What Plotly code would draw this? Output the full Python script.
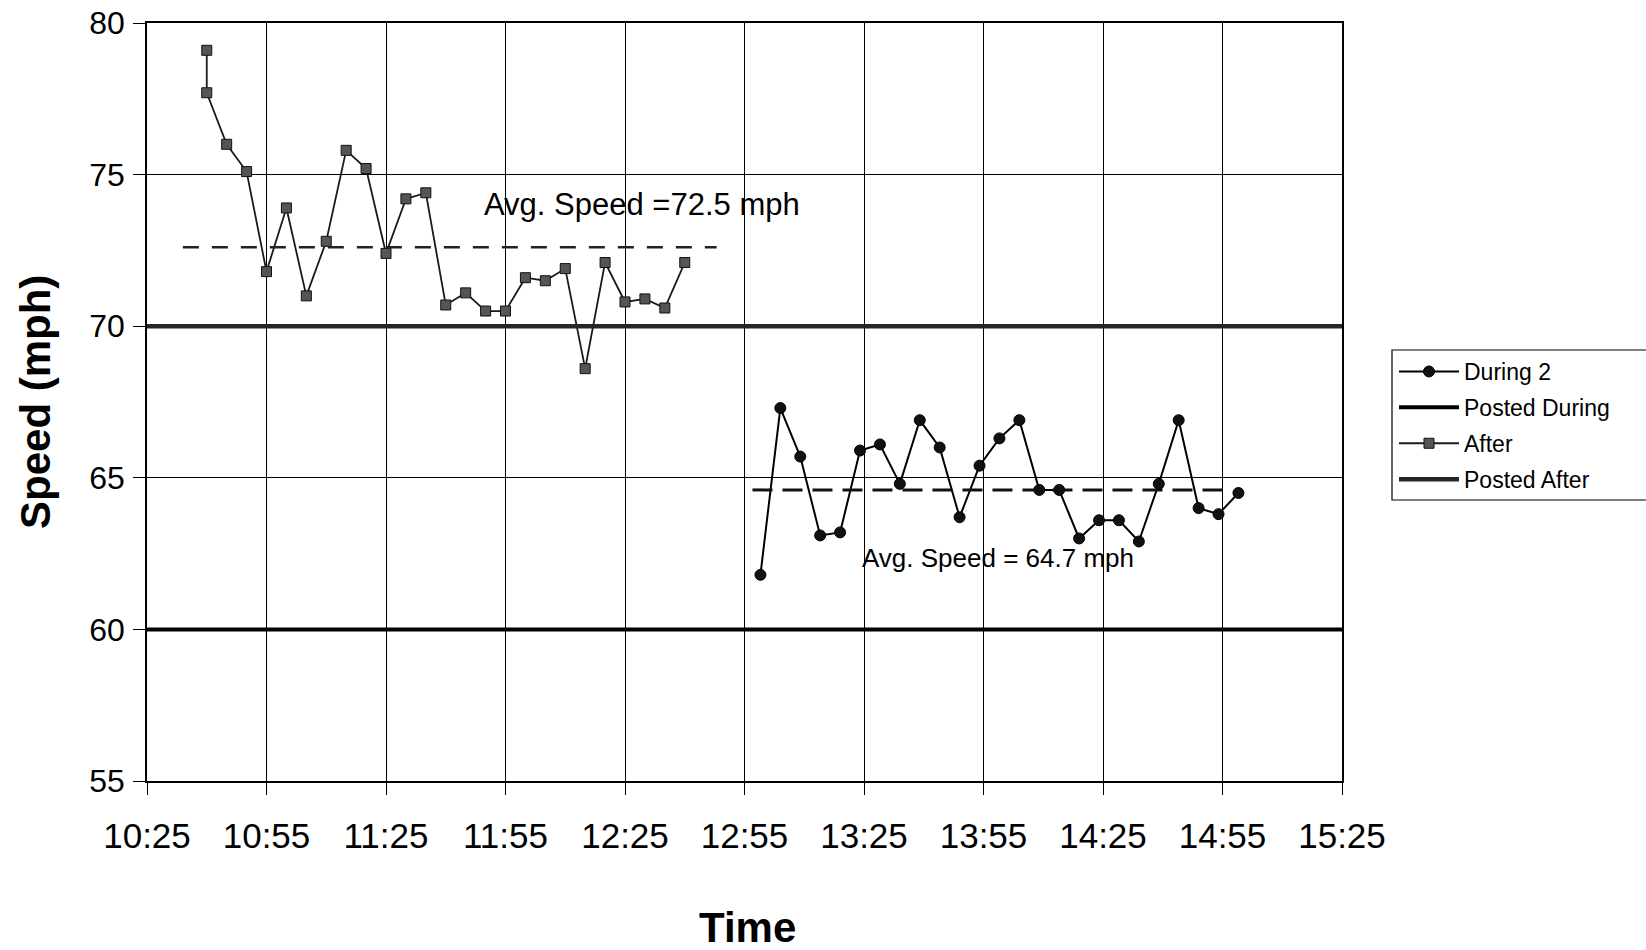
import plotly.graph_objects as go

DAY = "2000-01-01 "

# ---- data ----
after_times = ["10:40", "10:40", "10:45", "10:50", "10:55", "11:00", "11:05", "11:10",
               "11:15", "11:20", "11:25", "11:30", "11:35", "11:40", "11:45", "11:50",
               "11:55", "12:00", "12:05", "12:10", "12:15", "12:20", "12:25", "12:30",
               "12:35", "12:40"]
after_speed = [79.1, 77.7, 76.0, 75.1, 71.8, 73.9, 71.0, 72.8, 75.8, 75.2, 72.4, 74.2,
               74.4, 70.7, 71.1, 70.5, 70.5, 71.6, 71.5, 71.9, 68.6, 72.1, 70.8, 70.9,
               70.6, 72.1]

during_times = ["12:59", "13:04", "13:09", "13:14", "13:19", "13:24", "13:29", "13:34",
                "13:39", "13:44", "13:49", "13:54", "13:59", "14:04", "14:09", "14:14",
                "14:19", "14:24", "14:29", "14:34", "14:39", "14:44", "14:49", "14:54",
                "14:59"]
during_speed = [61.8, 67.3, 65.7, 63.1, 63.2, 65.9, 66.1, 64.8, 66.9, 66.0, 63.7, 65.4,
                66.3, 66.9, 64.6, 64.6, 63.0, 63.6, 63.6, 62.9, 64.8, 66.9, 64.0, 63.8,
                64.5]

posted_times = ["10:25", "15:25"]
posted_during = [60, 60]
posted_after = [70, 70]

avg_after_times = ["10:34", "12:48"]
avg_after = [72.6, 72.6]
avg_during_times = ["12:57", "14:57"]
avg_during = [64.6, 64.6]

label_after = "Avg. Speed =72.5 mph"
label_after_pos = ("11:49", 74.0)
label_during = "Avg. Speed = 64.7 mph"
label_during_pos = ("13:24", 62.35)

x_title = "Time"
y_title = "Speed (mph)"

x_range = ["10:25", "15:25"]
y_range = [55, 80]


def t(lst):
    return [DAY + s for s in lst]


FONT = "Arial, Liberation Sans, sans-serif"
W, H = 1646, 950
ML, MR, MT, MB = 147, 304, 23, 169
pw, ph = W - ML - MR, H - MT - MB


def px_x(v):
    return (v - ML) / pw


def px_y(v):
    return (H - MB - v) / ph


fig = go.Figure()

fig.add_trace(go.Scatter(
    x=t(during_times), y=during_speed, name="During 2", mode="lines+markers",
    legendgroup="g1",
    line=dict(color="black", width=2),
    marker=dict(symbol="circle", size=11, color="#111111",
                line=dict(color="black", width=1))))

fig.add_trace(go.Scatter(
    x=t(posted_times), y=posted_during, name="Posted During", mode="lines",
    legendgroup="g2",
    line=dict(color="black", width=4)))

fig.add_trace(go.Scatter(
    x=t(after_times), y=after_speed, name="After", mode="lines+markers",
    legendgroup="g3",
    line=dict(color="#1a1a1a", width=1.8),
    marker=dict(symbol="square", size=10, color="#555555",
                line=dict(color="#111111", width=1))))

fig.add_trace(go.Scatter(
    x=t(posted_times), y=posted_after, name="Posted After", mode="lines",
    legendgroup="g4",
    line=dict(color="#262626", width=4.5)))

fig.add_trace(go.Scatter(
    x=t(avg_after_times), y=avg_after, mode="lines", showlegend=False,
    line=dict(color="#222222", width=2.5, dash="16px,13px")))

fig.add_trace(go.Scatter(
    x=t(avg_during_times), y=avg_during, mode="lines", showlegend=False,
    line=dict(color="#111111", width=3, dash="20px,10px")))

fig.add_annotation(x=DAY + label_after_pos[0], y=label_after_pos[1], text=label_after,
                   showarrow=False, xanchor="left", yanchor="middle",
                   font=dict(family=FONT, size=31, color="black"))
fig.add_annotation(x=DAY + label_during_pos[0], y=label_during_pos[1], text=label_during,
                   showarrow=False, xanchor="left", yanchor="middle",
                   font=dict(family=FONT, size=26, color="black"))

# axis titles placed as paper annotations
fig.add_annotation(xref="paper", yref="paper", x=px_x(747), y=px_y(928),
                   text="<b>" + x_title + "</b>", showarrow=False,
                   xanchor="center", yanchor="middle",
                   font=dict(family=FONT, size=42, color="black"))
fig.add_annotation(xref="paper", yref="paper", x=px_x(35), y=0.5,
                   text="<b>" + y_title + "</b>", showarrow=False, textangle=-90,
                   xanchor="center", yanchor="middle",
                   font=dict(family=FONT, size=42, color="black"))

# legend frame running off the right edge, as in the original
fig.add_shape(type="rect", xref="paper", yref="paper",
              x0=px_x(1392), x1=px_x(1660), y0=px_y(500), y1=px_y(350),
              line=dict(color="black", width=1.2), fillcolor="rgba(0,0,0,0)", layer="above")

fig.update_layout(
    width=W, height=H,
    margin=dict(l=ML, r=MR, t=MT, b=MB, autoexpand=False),
    paper_bgcolor="white", plot_bgcolor="white",
    font=dict(family=FONT, color="black"),
    showlegend=True,
    legend=dict(
        x=px_x(1394), y=px_y(350), xanchor="left", yanchor="top",
        font=dict(family=FONT, size=23, color="black"),
        borderwidth=0, bgcolor="rgba(0,0,0,0)",
        itemwidth=60, tracegroupgap=3, traceorder="grouped"),
)

fig.update_xaxes(
    type="date", range=t(x_range), tick0=DAY + x_range[0], dtick=30 * 60 * 1000,
    tickformat="%H:%M", showgrid=True, gridcolor="black", gridwidth=1,
    showline=True, linecolor="black", linewidth=1.5, mirror=True,
    ticks="outside", ticklen=12, tickcolor="black",
    tickfont=dict(family=FONT, size=35, color="black"), ticklabelstandoff=11,
    automargin=False, zeroline=False)

fig.update_yaxes(
    range=y_range, dtick=5, showgrid=True, gridcolor="black", gridwidth=1,
    showline=True, linecolor="black", linewidth=1.5, mirror=True,
    ticks="outside", ticklen=12, tickcolor="black",
    tickfont=dict(family=FONT, size=32, color="black"), ticklabelstandoff=2,
    automargin=False, zeroline=False)

fig.write_html("out.html")
